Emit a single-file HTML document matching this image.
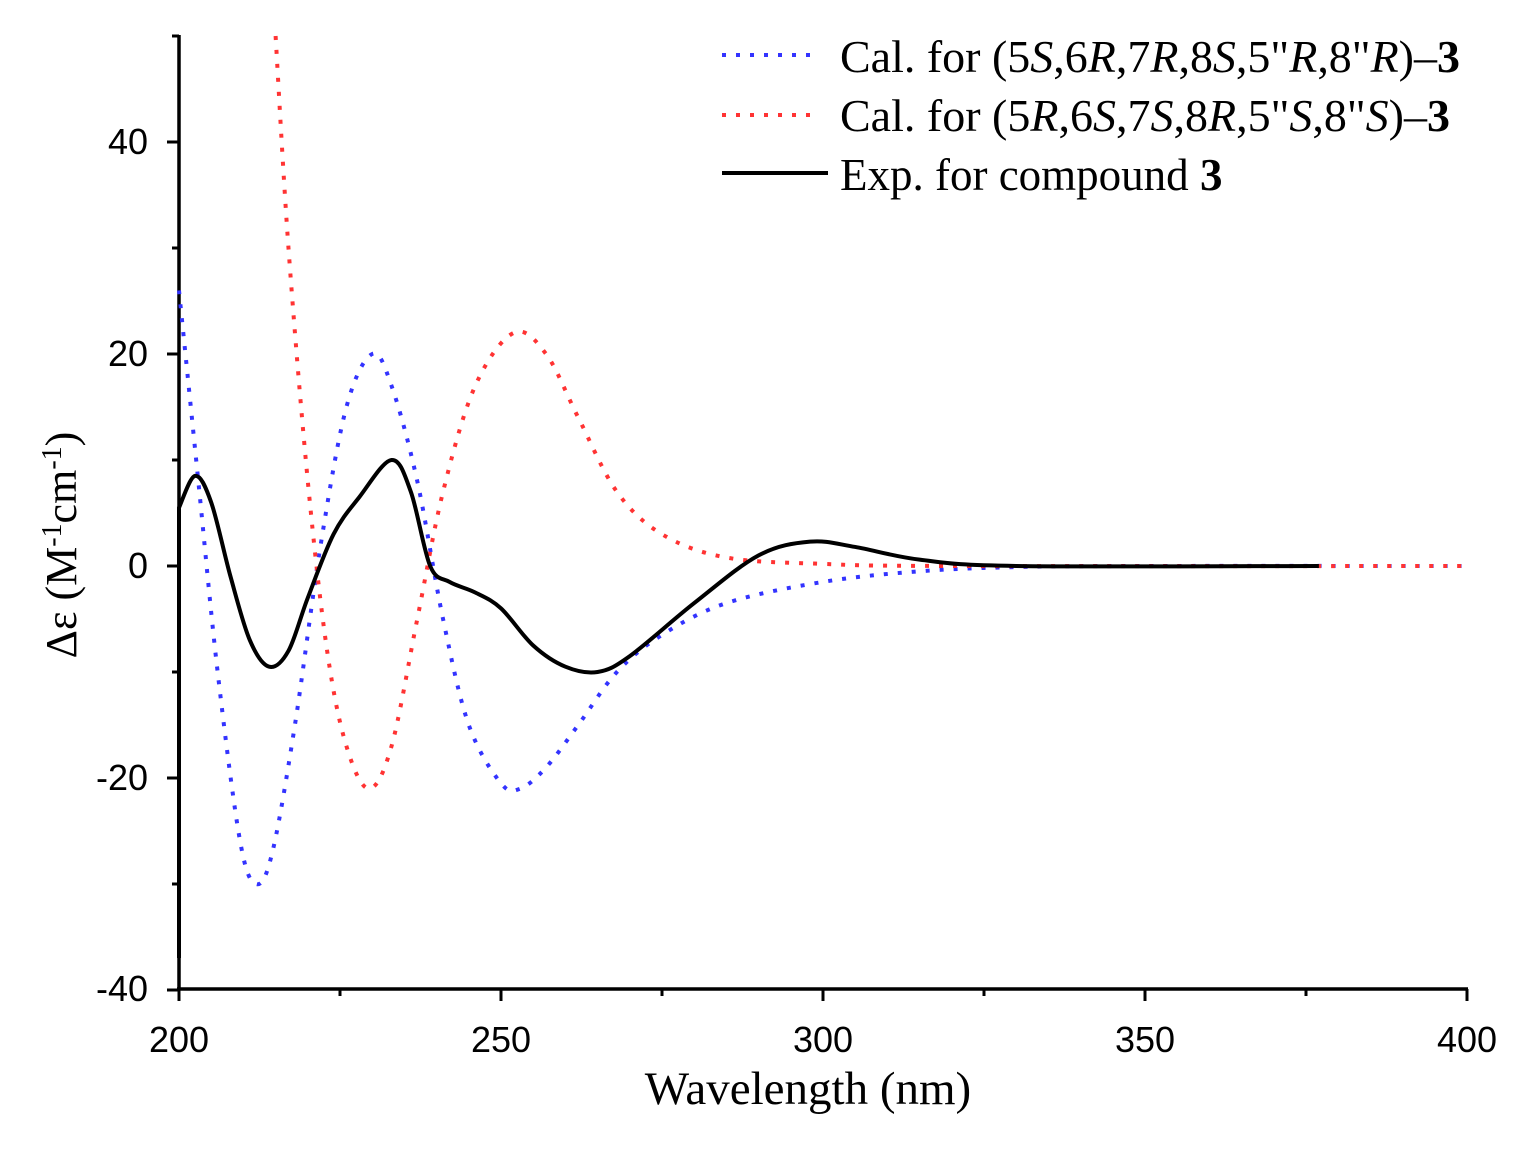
<!DOCTYPE html>
<html><head><meta charset="utf-8"><style>
html,body{margin:0;padding:0;background:#fff;}
svg{display:block;}
.t{font-family:"Liberation Sans",sans-serif;font-size:36px;fill:#000;}
.s{font-family:"Liberation Serif",serif;font-size:45px;fill:#000;}
</style></head><body>
<svg id="c" width="1536" height="1149" viewBox="0 0 1536 1149" xmlns="http://www.w3.org/2000/svg">
<g stroke="#000" stroke-width="3.5" fill="none">
<line x1="179" y1="35" x2="179" y2="990"/>
<line x1="177" y1="989" x2="1468" y2="989"/>
</g>
<g id="ticks" stroke="#000" stroke-width="3"></g>
<g class="t" text-anchor="end">
<text x="148" y="154">40</text>
<text x="148" y="366">20</text>
<text x="148" y="578">0</text>
<text x="148" y="790">-20</text>
<text x="148" y="1001">-40</text>
</g>
<g class="t" text-anchor="middle">
<text x="179" y="1052">200</text>
<text x="501" y="1052">250</text>
<text x="823" y="1052">300</text>
<text x="1145" y="1052">350</text>
<text x="1467" y="1052">400</text>
</g>
<text class="s" x="808" y="1104" text-anchor="middle" style="font-size:47px">Wavelength (nm)</text>
<text class="s" transform="translate(76,545) rotate(-90)" text-anchor="middle" style="font-size:44px">Δε (M<tspan dy="-15" font-size="28">-1</tspan><tspan dy="15">cm</tspan><tspan dy="-15" font-size="28">-1</tspan><tspan dy="15">)</tspan></text>
<g id="curves" fill="none"></g>
<g>
<line x1="722" y1="55" x2="815" y2="55" stroke="#3333ff" stroke-width="4" stroke-dasharray="4 10"/>
<line x1="722" y1="115" x2="815" y2="115" stroke="#ff3333" stroke-width="4" stroke-dasharray="4 10"/>
<line x1="722" y1="173" x2="828" y2="173" stroke="#000" stroke-width="4"/>
<text class="s" x="840" y="72" textLength="620" lengthAdjust="spacingAndGlyphs">Cal. for (5<tspan font-style="italic">S</tspan>,6<tspan font-style="italic">R</tspan>,7<tspan font-style="italic">R</tspan>,8<tspan font-style="italic">S</tspan>,5"<tspan font-style="italic">R</tspan>,8"<tspan font-style="italic">R</tspan>)–<tspan font-weight="bold">3</tspan></text>
<text class="s" x="840" y="131" textLength="610" lengthAdjust="spacingAndGlyphs">Cal. for (5<tspan font-style="italic">R</tspan>,6<tspan font-style="italic">S</tspan>,7<tspan font-style="italic">S</tspan>,8<tspan font-style="italic">R</tspan>,5"<tspan font-style="italic">S</tspan>,8"<tspan font-style="italic">S</tspan>)–<tspan font-weight="bold">3</tspan></text>
<text class="s" x="840" y="190">Exp. for compound <tspan font-weight="bold">3</tspan></text>
</g>
</svg>
<script>
var X=function(w){return 179+(w-200)*6.44},Y=function(v){return 566-v*10.6};
var ns="http://www.w3.org/2000/svg",tk=document.getElementById('ticks');
function ln(a,b,c,d){var l=document.createElementNS(ns,'line');l.setAttribute('x1',a);l.setAttribute('y1',b);l.setAttribute('x2',c);l.setAttribute('y2',d);tk.appendChild(l);}
for(var v=-40;v<=50;v+=10){ln(179,Y(v),v%20==0?167:172,Y(v));}
for(var w=200;w<=400;w+=25){ln(X(w),989,X(w),w%50==0?1001:996);}
function path(pts,col,dash,pre){
 var p=pts.map(function(q){return [X(q[0]),Y(q[1])]});
 var d=(pre||"")+(pre?" L":"M")+p[0][0]+","+p[0][1];
 for(var i=0;i<p.length-1;i++){
  var p0=p[i-1]||p[i],p1=p[i],p2=p[i+1],p3=p[i+2]||p2;
  d+=" C"+(p1[0]+(p2[0]-p0[0])/6)+","+(p1[1]+(p2[1]-p0[1])/6)+" "+(p2[0]-(p3[0]-p1[0])/6)+","+(p2[1]-(p3[1]-p1[1])/6)+" "+p2[0]+","+p2[1];
 }
 var e=document.createElementNS(ns,'path');e.setAttribute('d',d);e.setAttribute('stroke',col);e.setAttribute('stroke-width','4');
 if(dash)e.setAttribute('stroke-dasharray',dash);
 document.getElementById('curves').appendChild(e);
}
path([[200,26],[203,8],[206,-10],[209.5,-26],[212,-30],[214.5,-27],[218,-15],[222,2],[226,15],[230,20],[233,17],[237,8],[241,-5],[245,-15],[250,-20.5],[253,-21],[257,-19],[262,-15],[268,-10],[275,-6.5],[285,-3.5],[300,-1.5],[315,-0.5],[330,-0.1],[350,0],[400,0]],"#3333ff","4 10");
path([[215,50],[217,30],[220,8],[223,-8],[226,-17],[229.5,-21],[233,-17],[237,-5],[241,7],[246,17],[252,22],[257,20],[262,14],[268,7],[275,3],[285,0.8],[300,0.2],[320,0],[400,0]],"#ff3333","4 10");
path([[200,5.5],[202.5,8.5],[205,6],[208,-1],[211,-7],[214,-9.5],[217,-8],[220,-3],[224,3],[228,6.5],[233,10],[236,7],[239,0],[242,-1.5],[246,-2.5],[250,-4],[255,-7.5],[260,-9.5],[265,-10],[270,-8.5],[280,-3.5],[290,1],[298,2.3],[305,1.8],[315,0.6],[330,0],[377,0]],"#000",null,"M179,958");
</script>
</body></html>
